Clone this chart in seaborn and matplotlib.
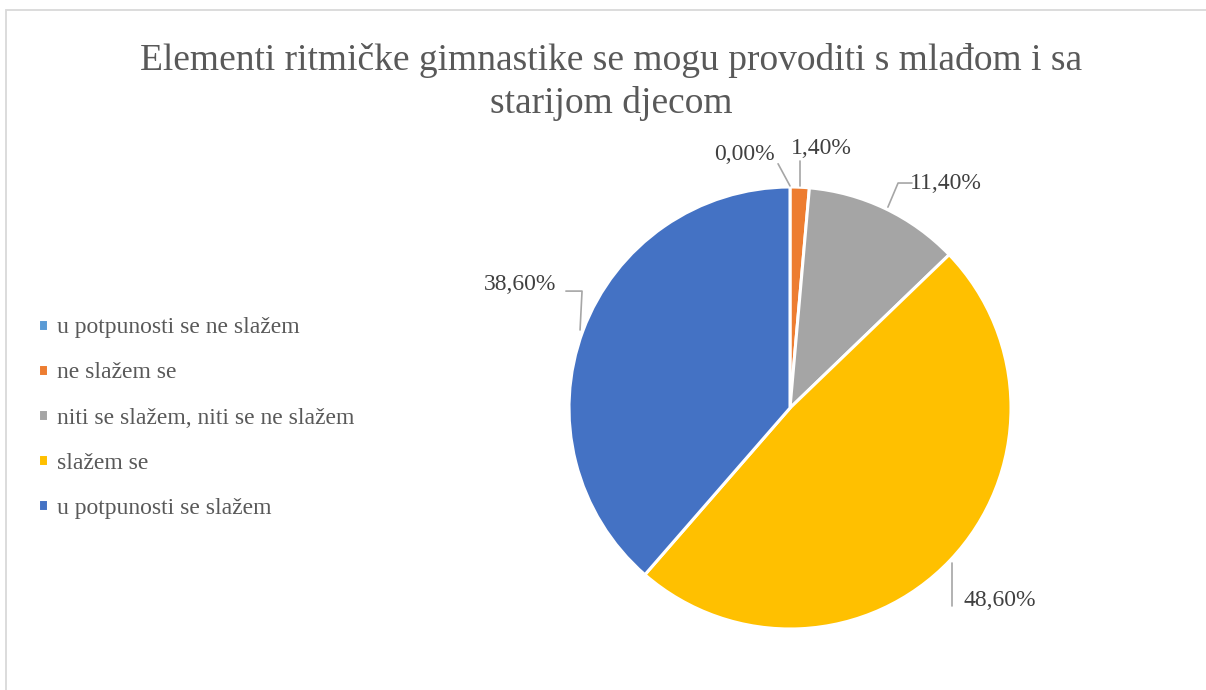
import matplotlib
matplotlib.use("Agg")
import matplotlib.pyplot as plt
import seaborn as sns
from matplotlib.patches import Rectangle

# data
categories = [
    "u potpunosti se ne slažem",
    "ne slažem se",
    "niti se slažem, niti se ne slažem",
    "slažem se",
    "u potpunosti se slažem",
]
values = [0.00, 1.40, 11.40, 48.60, 38.60]
value_labels = ["0,00%", "1,40%", "11,40%", "48,60%", "38,60%"]
title = "Elementi ritmičke gimnastike se mogu provoditi s mlađom i sa\nstarijom djecom"

sns.set_theme(style="white")
plt.rcParams['font.family'] = ['Liberation Serif', 'DejaVu Serif']

colors = sns.color_palette(["#5B9BD5", "#ED7D31", "#A5A5A5", "#FFC000", "#4472C4"])

W, H = 1206, 690
fig = plt.figure(figsize=(W / 100, H / 100), dpi=100)
fig.patch.set_facecolor("white")

# chart border (only top and left edges visible in the crop)
fig.patches.append(Rectangle((6 / W, -0.1), 1.2, 1.1 - 9.5 / H, transform=fig.transFigure,
                             fill=False, edgecolor="#D9D9D9", linewidth=1.3))

# pie axes: centre (790, 408) px, radius 221 px
cx, cy, r = 790, 408, 221
ax = fig.add_axes([(cx - r) / W, (H - cy - r) / H, 2 * r / W, 2 * r / H])
wedges, _ = ax.pie(values, colors=colors, startangle=90, counterclock=False,
                   wedgeprops=dict(edgecolor="white", linewidth=2.2))
ax.set_xlim(-1, 1)
ax.set_ylim(-1, 1)
ax.set_aspect("equal")

# label placement (data units, radius = 1)
label_pos = [(-0.204, 1.145), (0.140, 1.176), (0.706, 1.018), (0.950, -0.869), (-1.222, 0.557)]
leaders = [
    [(-0.054, 1.105), (0.0, 1.005)],
    [(0.045, 1.118), (0.045, 1.005)],
    [(0.552, 1.018), (0.489, 1.018), (0.443, 0.909)],
    [(0.733, -0.701), (0.733, -0.896)],
    [(-1.014, 0.529), (-0.941, 0.529), (-0.950, 0.353)],
]
for lab, (tx, ty), pts in zip(value_labels, label_pos, leaders):
    ax.text(tx, ty, lab, ha="center", va="center", fontsize=17, color="#404040")
    xs, ys = zip(*pts)
    ax.plot(xs, ys, color="#A6A6A6", linewidth=1.2, clip_on=False)

fig.text(611 / W, 1 - 82 / H, title, ha="center", va="center", fontsize=27,
         color="#595959", linespacing=1.28)

leg = fig.legend(wedges, categories, loc="center left", bbox_to_anchor=(17 / W, 1 - 418 / H),
                 frameon=False, fontsize=17, handlelength=0.4, handleheight=0.4,
                 handletextpad=0.4, labelspacing=1.02)
for t in leg.get_texts():
    t.set_color("#595959")

fig.savefig("out.png", dpi=100, facecolor="white")
